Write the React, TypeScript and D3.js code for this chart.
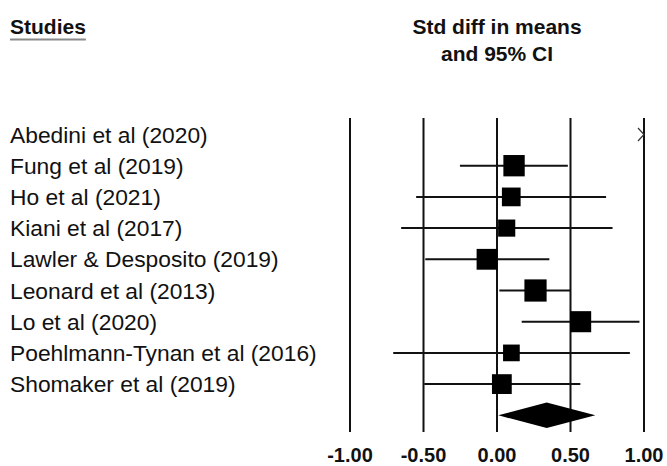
import React, { useEffect, useRef } from "react";
import * as d3 from "d3";

// Studies in display order
const studies = [
  "Abedini et al (2020)",
  "Fung et al (2019)",
  "Ho et al (2021)",
  "Kiani et al (2017)",
  "Lawler & Desposito (2019)",
  "Leonard et al (2013)",
  "Lo et al (2020)",
  "Poehlmann-Tynan et al (2016)",
  "Shomaker et al (2019)",
];

// Standardised mean differences with 95% confidence limits
const estimates = [1.45, 0.116, 0.097, 0.066, -0.068, 0.262, 0.569, 0.098, 0.033];
const lowerCI = [1.1, -0.252, -0.55, -0.652, -0.488, 0.016, 0.168, -0.706, -0.495];
const upperCI = [1.8, 0.482, 0.742, 0.786, 0.356, 0.502, 0.969, 0.904, 0.567];
// Relative study weights (%)
const weights = [16.6, 12.1, 9.3, 7.8, 11.5, 13.1, 11.8, 7.4, 10.4];

// Pooled estimate
const pooled = { est: 0.338, lo: 0.009, hi: 0.669 };

const tickValues = [-1, -0.5, 0, 0.5, 1];
const tickLabels = ["-1.00", "-0.50", "0.00", "0.50", "1.00"];

const W = 667;
const H = 466;
const FONT = "Arial, 'Liberation Sans', Helvetica, sans-serif";

export default function App() {
  const ref = useRef<SVGSVGElement | null>(null);

  useEffect(() => {
    const svg = d3.select(ref.current);
    svg.selectAll("*").remove();

    const x = d3.scaleLinear().domain([-1, 1]).range([350, 644]);
    const y = d3
      .scaleLinear()
      .domain([0, studies.length])
      .range([134.5, 134.5 + 31.2 * studies.length]);
    const size = d3.scaleSqrt().domain([0, d3.max(weights) as number]).range([0, 25]);
    const gridTop = 118;
    const gridBottom = 432;

    // Column headers
    const studiesHead = svg
      .append("text")
      .attr("x", 10)
      .attr("y", 34)
      .attr("font-family", FONT)
      .attr("font-weight", "bold")
      .attr("font-size", 21)
      .attr("fill", "#111")
      .text("Studies");
    const headW = (studiesHead.node() as SVGTextElement).getComputedTextLength();
    svg
      .append("line")
      .attr("x1", 10)
      .attr("x2", 10 + headW)
      .attr("y1", 39.5)
      .attr("y2", 39.5)
      .attr("stroke", "#8a8a8a")
      .attr("stroke-width", 2);

    const mid = (x(-1) + x(1)) / 2;
    svg
      .append("text")
      .attr("x", mid)
      .attr("y", 34)
      .attr("text-anchor", "middle")
      .attr("font-family", FONT)
      .attr("font-weight", "bold")
      .attr("font-size", 21)
      .attr("fill", "#111")
      .text("Std diff in means");
    svg
      .append("text")
      .attr("x", mid)
      .attr("y", 61)
      .attr("text-anchor", "middle")
      .attr("font-family", FONT)
      .attr("font-weight", "bold")
      .attr("font-size", 21)
      .attr("fill", "#111")
      .text("and 95% CI");

    // Study labels
    svg
      .append("g")
      .selectAll("text")
      .data(studies)
      .join("text")
      .attr("x", 10)
      .attr("y", (_, i) => y(i) + 8)
      .attr("font-family", FONT)
      .attr("font-size", 22.8)
      .attr("fill", "#111")
      .text((d) => d);

    // Vertical reference lines
    svg
      .append("g")
      .selectAll("line")
      .data(tickValues)
      .join("line")
      .attr("x1", (d) => x(d))
      .attr("x2", (d) => x(d))
      .attr("y1", gridTop)
      .attr("y2", gridBottom)
      .attr("stroke", "#111")
      .attr("stroke-width", 2);

    // Tick labels
    svg
      .append("g")
      .selectAll("text")
      .data(tickValues)
      .join("text")
      .attr("x", (d) => x(d))
      .attr("y", 461.5)
      .attr("text-anchor", "middle")
      .attr("font-family", FONT)
      .attr("font-weight", "bold")
      .attr("font-size", 20)
      .attr("fill", "#111")
      .text((_, i) => tickLabels[i]);

    const [dMin, dMax] = x.domain();
    const clamp = (v: number) => Math.max(dMin, Math.min(dMax, v));

    const rows = studies.map((s, i) => ({
      s,
      i,
      est: estimates[i],
      lo: lowerCI[i],
      hi: upperCI[i],
      w: weights[i],
    }));
    const inRange = rows.filter((r) => r.lo <= dMax && r.hi >= dMin);
    const offRight = rows.filter((r) => r.lo > dMax);

    // Confidence intervals
    svg
      .append("g")
      .selectAll("line")
      .data(inRange)
      .join("line")
      .attr("x1", (d) => x(clamp(d.lo)))
      .attr("x2", (d) => x(clamp(d.hi)))
      .attr("y1", (d) => y(d.i))
      .attr("y2", (d) => y(d.i))
      .attr("stroke", "#111")
      .attr("stroke-width", 2);

    // Point estimates, sized by weight
    svg
      .append("g")
      .selectAll("rect")
      .data(inRange)
      .join("rect")
      .attr("x", (d) => x(d.est) - size(d.w) / 2)
      .attr("y", (d) => y(d.i) - size(d.w) / 2)
      .attr("width", (d) => size(d.w))
      .attr("height", (d) => size(d.w))
      .attr("fill", "#000");

    // Arrow for estimates beyond the right edge of the scale
    svg
      .append("g")
      .selectAll("path")
      .data(offRight)
      .join("path")
      .attr("d", (d) => {
        const xe = x(dMax);
        const yc = y(d.i);
        return `M${xe - 6},${yc - 6.5}L${xe},${yc}L${xe - 6},${yc + 6.5}`;
      })
      .attr("fill", "none")
      .attr("stroke", "#333")
      .attr("stroke-width", 1.2);

    // Summary diamond
    const yp = y(studies.length);
    const hh = 12.8;
    svg
      .append("path")
      .attr(
        "d",
        `M${x(pooled.lo)},${yp}L${x(pooled.est)},${yp - hh}L${x(pooled.hi)},${yp}L${x(pooled.est)},${yp + hh}Z`
      )
      .attr("fill", "#000");
  }, []);

  return (
    <svg
      ref={ref}
      width={W}
      height={H}
      style={{ display: "block", position: "absolute", left: 0, top: 0, background: "#fff" }}
    />
  );
}
